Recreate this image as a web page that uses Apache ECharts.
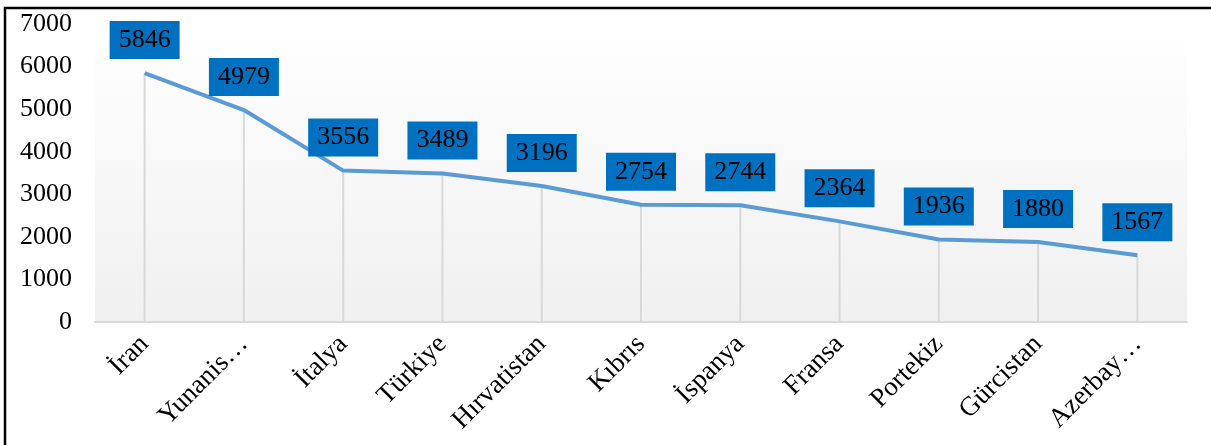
<!DOCTYPE html>
<html>
<head>
<meta charset="utf-8">
<script src="https://cdn.jsdelivr.net/npm/echarts@6/dist/echarts.min.js"></script>
<style>
  html, body { margin: 0; padding: 0; background: #fff; }
  #chart { width: 1211px; height: 445px; }
</style>
</head>
<body>
<div id="chart"></div>
<script>
// country names as printed on the axis (truncated ones kept as shown)
const countries = ['İran', 'Yunanis…', 'İtalya', 'Türkiye', 'Hırvatistan', 'Kıbrıs', 'İspanya', 'Fransa', 'Portekiz', 'Gürcistan', 'Azerbay…'];
const values = [5846, 4979, 3556, 3489, 3196, 2754, 2744, 2364, 1936, 1880, 1567];

const FONT = '"Liberation Serif", "Times New Roman", serif';

var chart = echarts.init(document.getElementById('chart'));
chart.setOption({
  animation: false,
  graphic: [
    {
      type: 'rect',
      shape: { x: 5, y: 8, width: 1230, height: 460 },
      style: { fill: 'none', stroke: '#000', lineWidth: 2.5 },
      z: 100
    }
  ],
  grid: {
    left: 95,
    right: 24,
    top: 24,
    bottom: 123,
    show: true,
    borderWidth: 0,
    backgroundColor: {
      type: 'linear', x: 0, y: 0, x2: 0, y2: 1,
      colorStops: [
        { offset: 0, color: '#ffffff' },
        { offset: 1, color: '#f0f0f0' }
      ]
    }
  },
  xAxis: {
    type: 'category',
    data: countries,
    axisTick: { show: false },
    axisLine: { lineStyle: { color: '#d9d9d9', width: 2 } },
    axisLabel: {
      rotate: 45,
      interval: 0,
      margin: 18,
      color: '#000',
      fontSize: 27,
      fontFamily: FONT
    }
  },
  yAxis: {
    type: 'value',
    min: 0,
    max: 7000,
    interval: 1000,
    axisLine: { show: false },
    axisTick: { show: false },
    splitLine: { show: false },
    axisLabel: {
      margin: 23,
      color: '#000',
      fontSize: 26,
      fontFamily: FONT,
      formatter: function (v) { return String(v); }
    }
  },
  series: [
    {
      // thin drop lines from each point down to the axis
      type: 'bar',
      data: values,
      barWidth: 2,
      itemStyle: { color: '#d9d9d9' },
      z: 1,
      silent: true
    },
    {
      type: 'line',
      data: values,
      showSymbol: true,
      symbol: 'circle',
      symbolSize: 0.1,
      itemStyle: { color: '#5B9BD5' },
      lineStyle: { color: '#5B9BD5', width: 4 },
      z: 3,
      label: {
        show: true,
        position: 'top',
        distance: 14,
        backgroundColor: '#0070C0',
        padding: [6, 9, 6, 9],
        color: '#000',
        fontSize: 26,
        fontFamily: FONT
      }
    }
  ]
});
</script>
</body>
</html>
